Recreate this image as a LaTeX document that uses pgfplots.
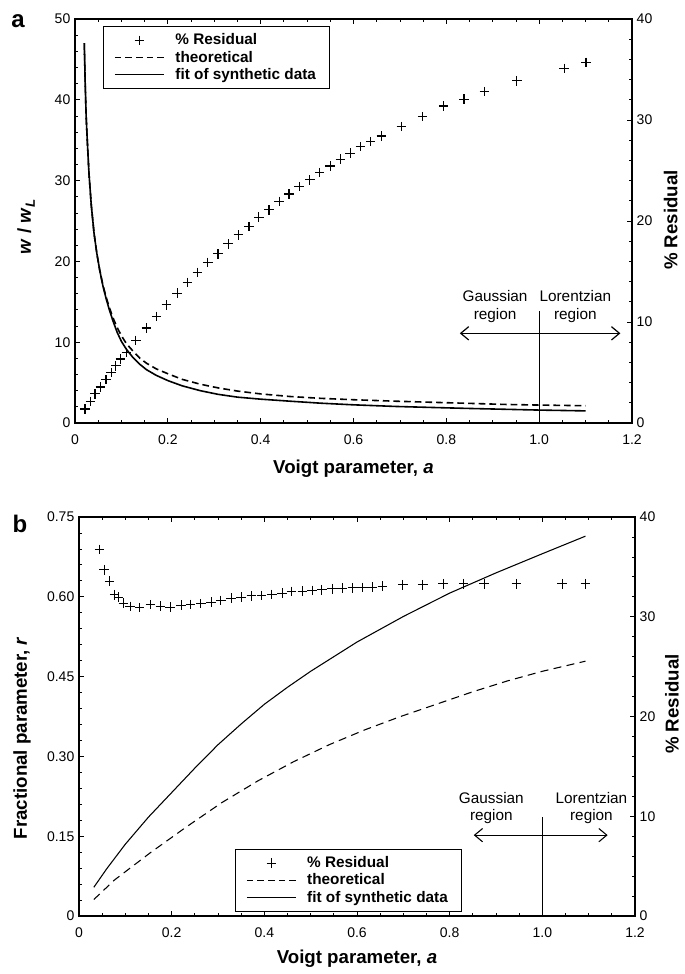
\documentclass[border=0pt]{standalone}
\usepackage{fontspec}
\setmainfont{Liberation Sans}
\usepackage{pgfplots}
\pgfplotsset{compat=1.18}
\usetikzlibrary{arrows.meta}

\pgfplotstableread{
x r
0.0217 1.38
0.033 2.14
0.043 2.90
0.055 3.56
0.067 4.29
0.078 5.01
0.088 5.67
0.098 6.33
0.111 6.99
0.131 8.18
0.154 9.40
0.176 10.55
0.197 11.70
0.220 12.86
0.242 13.91
0.264 14.90
0.286 15.89
0.308 16.75
0.330 17.74
0.352 18.63
0.375 19.45
0.396 20.38
0.418 21.10
0.440 21.93
0.461 22.68
0.483 23.41
0.506 24.07
0.527 24.79
0.550 25.45
0.572 26.11
0.593 26.71
0.615 27.37
0.637 27.86
0.660 28.42
0.703 29.34
0.749 30.33
0.794 31.39
0.838 32.05
0.882 32.81
0.952 33.89
1.054 35.11
1.101 35.71
}\topres

\pgfplotstableread{
x w
0.020 47.0
0.022 42.0
0.024 38.0
0.026 35.5
0.030 31.0
0.035 27.0
0.041 23.5
0.047 21.0
0.053 19.0
0.060 17.0
0.067 15.4
0.074 14.0
0.082 12.6
0.091 11.2
0.100 10.1
0.111 9.1
0.125 8.1
0.140 7.25
0.154 6.6
0.175 5.9
0.200 5.25
0.231 4.6
0.270 4.0
0.308 3.55
0.350 3.2
0.400 2.95
0.463 2.7
0.530 2.45
0.600 2.25
0.690 2.05
0.771 1.92
0.850 1.80
0.925 1.70
1.000 1.60
1.100 1.50
}\topfit

\pgfplotstableread{
x w
0.020 47.0
0.022 42.0
0.024 38.0
0.026 35.5
0.030 31.0
0.035 27.0
0.041 23.5
0.047 21.0
0.053 19.0
0.060 17.1
0.067 15.6
0.074 14.3
0.082 13.0
0.091 11.8
0.100 10.8
0.111 9.8
0.125 8.9
0.140 8.0
0.154 7.4
0.175 6.7
0.200 6.1
0.231 5.4
0.270 4.8
0.308 4.35
0.350 3.95
0.400 3.6
0.463 3.28
0.530 3.05
0.600 2.88
0.690 2.70
0.771 2.56
0.850 2.43
0.925 2.30
1.000 2.22
1.100 2.14
}\toptheo

\pgfplotstableread{
x r
0.044 36.75
0.054 34.71
0.066 33.58
0.077 32.21
0.085 31.97
0.096 31.37
0.110 31.04
0.131 30.91
0.154 31.21
0.176 31.07
0.197 30.97
0.220 31.17
0.241 31.24
0.263 31.31
0.285 31.47
0.306 31.64
0.328 31.87
0.350 31.97
0.372 32.11
0.394 32.14
0.416 32.24
0.438 32.38
0.459 32.54
0.482 32.58
0.503 32.64
0.524 32.71
0.546 32.81
0.568 32.88
0.590 32.91
0.611 32.94
0.633 32.98
0.655 33.08
0.699 33.21
0.742 33.21
0.786 33.31
0.830 33.31
0.874 33.31
0.944 33.31
1.043 33.31
1.093 33.31
}\botres

\pgfplotstableread{
x f
0.032 0.054
0.060 0.089
0.100 0.135
0.150 0.186
0.200 0.232
0.250 0.278
0.300 0.322
0.350 0.361
0.400 0.398
0.450 0.430
0.500 0.460
0.600 0.515
0.700 0.563
0.800 0.607
0.900 0.645
1.000 0.681
1.093 0.714
}\botfit

\pgfplotstableread{
x f
0.032 0.031
0.077 0.068
0.154 0.119
0.231 0.167
0.308 0.213
0.386 0.254
0.463 0.290
0.540 0.322
0.617 0.350
0.694 0.375
0.771 0.398
0.848 0.421
0.925 0.442
1.000 0.460
1.093 0.479
}\bottheo

\pgfplotsset{
  base/.style={
    scale only axis,
    tick align=inside,
    /pgf/number format/assume math mode=true,
    tick label style={font=\fontsize{10.5}{12}\selectfont},
    axis line style={line width=0.9pt},
    major tick length=4pt,
    minor tick length=2.5pt,
    every tick/.style={black, line width=0.6pt},
    xmin=0, xmax=1.2,
    xtick={0,0.2,0.4,0.6,0.8,1.0,1.2},
    xticklabels={0,0.2,0.4,0.6,0.8,1.0,1.2},
    minor x tick num=3,
    xticklabel style={yshift=-5pt},
  },
  leg/.style={
    legend cell align=left,
    legend image code/.code={\draw[mark repeat=2,mark phase=2,##1] plot coordinates {(0cm,0cm) (0.65cm,0cm) (1.3cm,0cm)};},
    legend style={draw=black, font=\bfseries\fontsize{11.5}{12}\selectfont,
      row sep=-1pt, inner xsep=8pt, inner ysep=3.5pt,
      /tikz/every odd column/.append style={column sep=6pt}},
  },
}

\begin{document}
\begin{tikzpicture}
\path[use as bounding box] (0,0) rectangle (513.75pt,-730.5pt);

% ---------- panel a ----------
\begin{axis}[base,
  at={(56.25pt,-317.25pt)}, anchor=south west,
  width=417.75pt, height=303pt,
  ymin=0, ymax=50, ytick={0,10,20,30,40,50}, minor y tick num=4,
  ytick pos=left, xtick pos=both]
\addplot[black, line width=1.2pt, dash pattern=on 5pt off 3pt] table[x=x,y=w] {\toptheo};
\addplot[black, line width=1.2pt] table[x=x,y=w] {\topfit};
\draw[line width=0.8pt] (axis cs:1,0) -- (axis cs:1,13.9);
\draw[line width=0.9pt, {Straight Barb[length=6pt,width=10pt]}-{Straight Barb[length=6pt,width=10pt]}] (axis cs:0.829,11.1) -- (axis cs:1.175,11.1);
\node[align=center, font=\fontsize{11.5}{13}\selectfont] at (axis cs:0.905,14.4) {Gaussian\\region};
\node[align=center, font=\fontsize{11.5}{13}\selectfont] at (axis cs:1.078,14.4) {Lorentzian\\region};
\end{axis}
\begin{axis}[base, leg,
  at={(56.25pt,-317.25pt)}, anchor=south west,
  width=417.75pt, height=303pt,
  axis x line=none, axis y line*=right,
  ymin=0, ymax=40, ytick={0,10,20,30,40}, minor y tick num=4,
  legend style={at={(rel axis cs:0.05,0.983)}, anchor=north west, line width=0.9pt}]
\addplot[black, only marks, mark=+, mark size=3.6pt, mark options={line width=0.9pt}] table[x=x,y=r] {\topres};
\addlegendentry{\% Residual}
\addlegendimage{black, line width=1pt, dash pattern=on 5pt off 3pt}
\addlegendentry{theoretical}
\addlegendimage{black, line width=1pt}
\addlegendentry{fit of synthetic data}
\end{axis}

% ---------- panel b ----------
\begin{axis}[base,
  at={(59.25pt,-687pt)}, anchor=south west,
  width=417pt, height=299.25pt,
  ymin=0, ymax=0.75, ytick={0,0.15,0.30,0.45,0.60,0.75},
  yticklabels={0,0.15,0.30,0.45,0.60,0.75}, minor y tick num=4,
  ytick pos=left, xtick pos=both]
\addplot[black, line width=0.8pt, dash pattern=on 6pt off 4pt] table[x=x,y=f] {\bottheo};
\addplot[black, line width=0.8pt] table[x=x,y=f] {\botfit};
\draw[line width=0.5pt] (axis cs:1,0) -- (axis cs:1,0.186);
\draw[line width=0.8pt, {Straight Barb[length=6pt,width=10pt]}-{Straight Barb[length=6pt,width=10pt]}] (axis cs:0.852,0.152) -- (axis cs:1.141,0.152);
\node[align=center, font=\fontsize{11.5}{13}\selectfont] at (axis cs:0.89,0.203) {Gaussian\\region};
\node[align=center, font=\fontsize{11.5}{13}\selectfont] at (axis cs:1.106,0.203) {Lorentzian\\region};
\end{axis}
\begin{axis}[base, leg,
  at={(59.25pt,-687pt)}, anchor=south west,
  width=417pt, height=299.25pt,
  axis x line=none, axis y line*=right,
  ymin=0, ymax=40, ytick={0,10,20,30,40}, minor y tick num=4,
  legend style={at={(rel axis cs:0.281,0.168)}, anchor=north west, line width=0.6pt}]
\addplot[black, only marks, mark=+, mark size=3.6pt, mark options={line width=0.6pt}] table[x=x,y=r] {\botres};
\addlegendentry{\% Residual}
\addlegendimage{black, line width=0.7pt, dash pattern=on 5pt off 3pt}
\addlegendentry{theoretical}
\addlegendimage{black, line width=0.7pt}
\addlegendentry{fit of synthetic data}
\end{axis}

% ---------- labels ----------
\node[font=\bfseries\fontsize{18}{18}\selectfont, anchor=base] at (13.5pt,-21pt) {a};
\node[font=\bfseries\fontsize{18}{18}\selectfont, anchor=base] at (15pt,-399pt) {b};
\node[font=\bfseries\fontsize{14}{16}\selectfont, anchor=base] at (265.1pt,-354.75pt) {Voigt parameter, \textit{a}};
\node[font=\bfseries\fontsize{14}{16}\selectfont, anchor=base] at (267.75pt,-722.25pt) {Voigt parameter, \textit{a}};
\node[font=\bfseries\fontsize{14}{16}\selectfont, rotate=90] at (19.5pt,-170.25pt) {\textit{w} / \textit{w}\raisebox{-3pt}{\fontsize{10}{10}\selectfont\textit{L}}};
\node[font=\bfseries\fontsize{14}{16}\selectfont, rotate=90] at (503pt,-165pt) {\% Residual};
\node[font=\bfseries\fontsize{14}{16}\selectfont, rotate=90] at (16.5pt,-553.5pt) {Fractional parameter, \textit{r}};
\node[font=\bfseries\fontsize{14}{16}\selectfont, rotate=90] at (504pt,-528pt) {\% Residual};
\end{tikzpicture}
\end{document}
